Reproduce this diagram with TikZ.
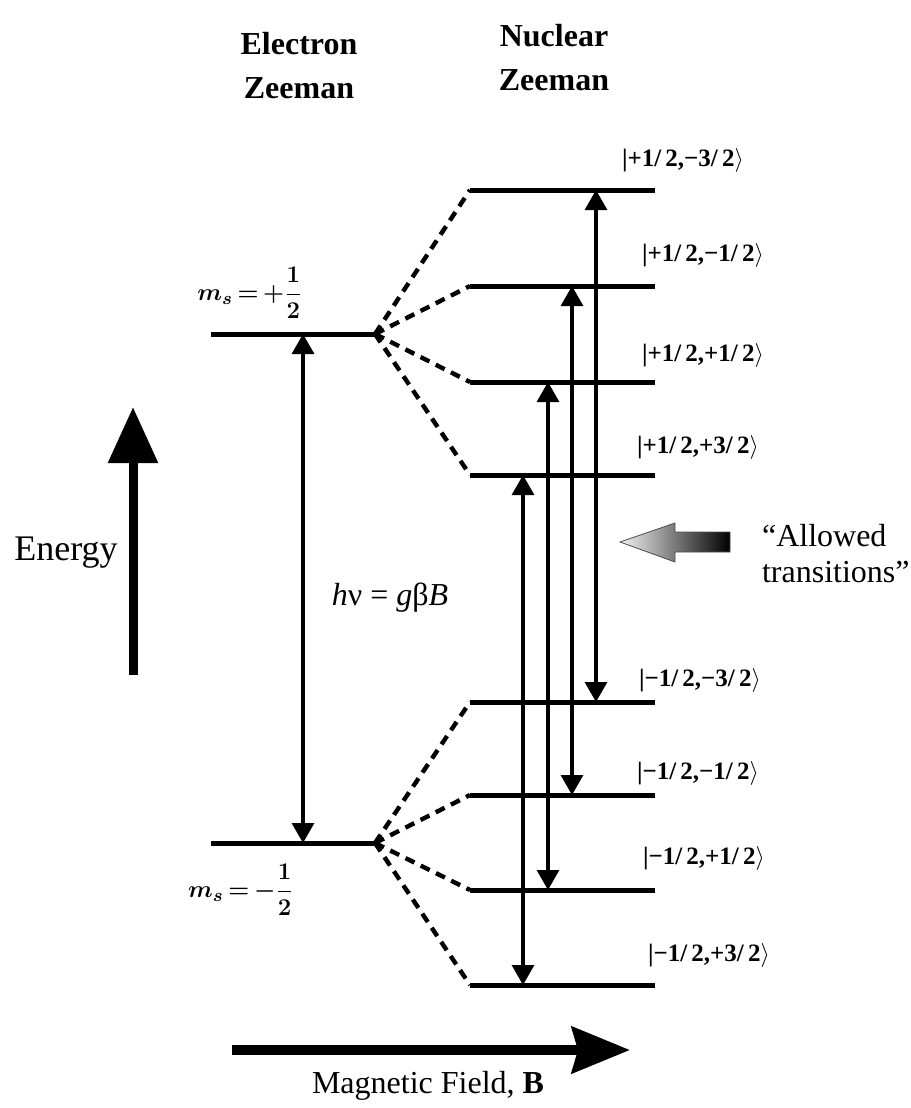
\documentclass[tikz,border=0pt]{standalone}
\usepackage{amsmath}
\usepackage{fontspec}
\setmainfont{Liberation Serif}
\usetikzlibrary{arrows.meta}

\begin{document}
\begin{tikzpicture}[x=0.5pt,y=-0.5pt,
    level/.style={line width=2.5pt},
    split/.style={line width=2.2pt,dash pattern=on 5pt off 3.5pt},
    trans/.style={line width=1.6pt,{Triangle[width=11pt,length=10pt]}-{Triangle[width=11pt,length=10pt]}},
    ket/.style={anchor=west,font=\fontsize{12.5}{14}\selectfont\bfseries},
    head/.style={align=center,font=\fontsize{16}{22}\selectfont\bfseries}]
\useasboundingbox (0,0) rectangle (910,1108);
\node[head] (etitle) at (299,66) {Electron\\Zeeman};
\node[head] (ntitle) at (554,58) {Nuclear\\Zeeman};
\coordinate (eu-l) at (211,334); \coordinate (eu-r) at (375,334);
\coordinate (el-l) at (211,843); \coordinate (el-r) at (375,843);
\draw[level] (eu-l) -- (eu-r);
\draw[level] (el-l) -- (el-r);
\foreach \n/\y/\lx/\ly/\se/\sn/\m in {1/190/615/160/+/−/3,2/286/635/255/+/−/1,3/382/635/355/+/+/1,4/475/630/447/+/+/3,5/702/632/680/−/−/3,6/795/630/773/−/−/1,7/890/636/858/−/+/1,8/985/641/955/−/+/3}{
  \coordinate (n\n-l) at (470,\y); \coordinate (n\n-r) at (655,\y);
  \draw[level] (n\n-l) -- (n\n-r);
  \node[ket] (k\n) at (\lx,\ly) {|\se1/\,2,\sn\m/\,2$\rangle$};
}
\foreach \n in {1,...,4} \draw[split] (eu-r) -- (n\n-l);
\foreach \n in {5,...,8} \draw[split] (el-r) -- (n\n-l);
\draw[trans] (303,0 |- eu-l) -- (303,0 |- el-l);
\foreach \x/\u/\d in {596/1/5,572/2/6,548/3/7,523/4/8}
    \draw[trans] (\x,0 |- n\u-l) -- (\x,0 |- n\d-l);
\node[font=\fontsize{13}{15}\selectfont\boldmath] (msu) at (250,293) {$m_s\,{=}\,{+}\dfrac{1}{2}$};
\node[font=\fontsize{13}{15}\selectfont\boldmath] (msl) at (241,890) {$m_s\,{=}\,{-}\dfrac{1}{2}$};
\node[font=\fontsize{16}{19}\selectfont] (hnu) at (390,598) {\textit{h}ν = \textit{g}β\textit{B}};
\node[font=\fontsize{18}{21}\selectfont] (energy) at (66,553) {Energy};
\coordinate (e-b) at (133,675); \coordinate (e-t) at (133,407);
\draw[line width=4.5pt,-{Triangle[width=24pt,length=28pt]}] (e-b) -- (e-t);
\coordinate (b-l) at (232,1050); \coordinate (b-r) at (630,1050);
\draw[line width=5pt,-{Stealth[width=23pt,length=29pt,inset=3pt]}] (b-l) -- (b-r);
\node[font=\fontsize{16}{19}\selectfont] (bfield) at (428,1086) {Magnetic Field, \textbf{B}};
\shade[left color=gray!10,right color=black,draw=black!70,line width=0.4pt] (620,542) -- (675,523) -- (675,532) -- (730,532) -- (730,552) -- (675,552) -- (675,562) -- cycle;
\node[anchor=west,align=left,font=\fontsize{16}{18}\selectfont] (allowed) at (755,554) {“Allowed\\transitions”};
\end{tikzpicture}
\end{document}
